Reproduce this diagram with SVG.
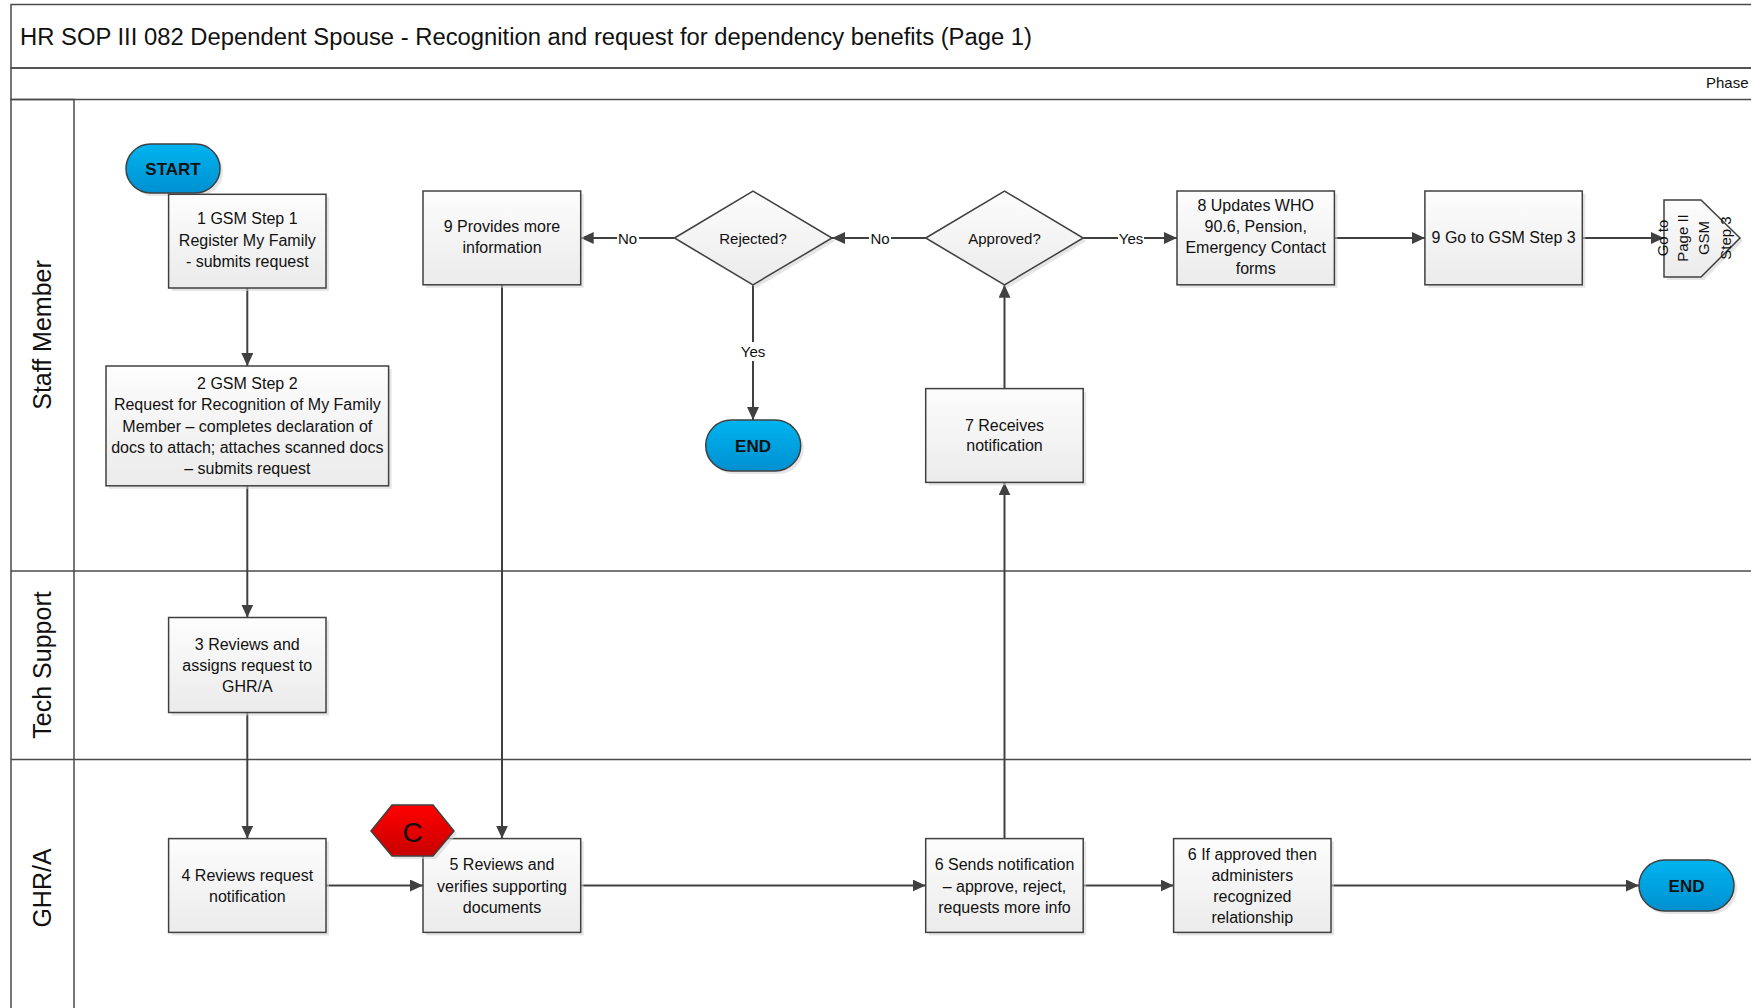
<svg xmlns="http://www.w3.org/2000/svg" width="1751" height="1008" viewBox="0 0 1751 1008">
<style>
.t{font-family:"Liberation Sans",Arial,sans-serif;font-size:16px;fill:#111;text-anchor:middle}
.lbl{font-family:"Liberation Sans",Arial,sans-serif;font-size:15px;fill:#111;text-anchor:middle;dominant-baseline:central}
.lane{font-family:"Liberation Sans",Arial,sans-serif;font-size:25px;fill:#111;text-anchor:middle;dominant-baseline:central}
.term{font-family:"Liberation Sans",Arial,sans-serif;font-size:17px;font-weight:bold;fill:#111;text-anchor:middle;dominant-baseline:central}
.box{fill:url(#gBox);stroke:#404040;stroke-width:1.5}
.blue{fill:url(#gBlue);stroke:#404040;stroke-width:1.5}
.sh{fill:#cfcfcf;opacity:0.55}
.ln{stroke:#4a4a4a;stroke-width:1.5;fill:none}
.conn{stroke:#404040;stroke-width:2;fill:none;marker-end:url(#arr)}
</style>
<defs>
<linearGradient id="gBox" x1="0" y1="0" x2="0" y2="1"><stop offset="0" stop-color="#fdfdfd"/><stop offset="1" stop-color="#ebebeb"/></linearGradient>
<linearGradient id="gBand" x1="0" y1="0" x2="0" y2="1"><stop offset="0" stop-color="#fefefe"/><stop offset="1" stop-color="#efefef"/></linearGradient>
<linearGradient id="gLane" x1="0" y1="0" x2="1" y2="0"><stop offset="0" stop-color="#fdfdfd"/><stop offset="1" stop-color="#ececec"/></linearGradient>
<linearGradient id="gBlue" x1="0" y1="0" x2="0" y2="1"><stop offset="0" stop-color="#00b4f0"/><stop offset="1" stop-color="#0090d0"/></linearGradient>
<linearGradient id="gRed" x1="0" y1="0" x2="0" y2="1"><stop offset="0" stop-color="#ff0000"/><stop offset="1" stop-color="#c80000"/></linearGradient>
<marker id="arr" markerUnits="userSpaceOnUse" markerWidth="14" markerHeight="12" refX="13" refY="6" orient="auto"><path d="M0,0 L13,6 L0,12 z" fill="#404040"/></marker>
</defs>

<g id="frame">
<rect x="11" y="4.5" width="1760" height="63.5" fill="url(#gBand)" class="ln"/>
<rect x="11" y="68" width="1760" height="31.5" fill="url(#gBand)" class="ln"/>
<rect x="11" y="99.5" width="63" height="920" fill="url(#gLane)" class="ln"/>
<line x1="11" y1="571" x2="1760" y2="571" class="ln"/>
<line x1="11" y1="759.5" x2="1760" y2="759.5" class="ln"/>
<text x="20" y="45" font-family="Liberation Sans, Arial, sans-serif" font-size="23.5" fill="#111" textLength="1012" lengthAdjust="spacingAndGlyphs">HR SOP III 082 Dependent Spouse - Recognition and request for dependency benefits (Page 1)</text>
<text x="1706" y="88" font-family="Liberation Sans, Arial, sans-serif" font-size="15" fill="#111">Phase</text>
<text class="lane" transform="translate(42,335) rotate(-90)">Staff Member</text>
<text class="lane" transform="translate(42,665) rotate(-90)">Tech Support</text>
<text class="lane" transform="translate(42,888) rotate(-90)">GHR/A</text>
</g>

<g id="connectors">
<path class="conn" d="M247.3,288 V366"/>
<path class="conn" d="M247.3,485.8 V617.5"/>
<path class="conn" d="M247.3,712.5 V838.6"/>
<path class="conn" d="M326,885.5 H423"/>
<path class="conn" d="M580.7,885.5 H925.7"/>
<path class="conn" d="M1004.5,838.6 V482.4"/>
<path class="conn" d="M1004.5,388.6 V284.8"/>
<path class="conn" d="M925.7,238 H832"/>
<path class="conn" d="M674.5,238 H580.7"/>
<path class="conn" d="M753,284.8 V420"/>
<path class="conn" d="M1083.2,238 H1177"/>
<path class="conn" d="M1334.4,238 H1424.9"/>
<path class="conn" d="M1582.3,238 H1664"/>
<path class="conn" d="M502,284.8 V838.6"/>
<path class="conn" d="M1083.2,885.5 H1173.6"/>
<path class="conn" d="M1331,885.5 H1639"/>
<rect x="617" y="229" width="22" height="18" fill="#fff"/>
<text class="lbl" x="627.6" y="238">No</text>
<rect x="869" y="229" width="22" height="18" fill="#fff"/>
<text class="lbl" x="880" y="238">No</text>
<rect x="1118" y="229" width="26" height="18" fill="#fff"/>
<text class="lbl" x="1131" y="238">Yes</text>
<rect x="739" y="342" width="28" height="19" fill="#fff"/>
<text class="lbl" x="753" y="351.7">Yes</text>
</g>

<g id="start">
<rect x="129" y="147" width="94" height="49" rx="24.5" class="sh"/>
<rect x="126" y="144" width="94" height="49" rx="24.5" class="blue"/>
<text class="term" x="173" y="169">START</text>
</g>

<g id="step1">
<rect x="171.6" y="197.3" width="157.4" height="93.7" class="sh"/>
<rect x="168.6" y="194.3" width="157.4" height="93.7" class="box"/>
<text class="t" x="247.3" y="224">1 GSM Step 1</text>
<text class="t" x="247.3" y="246">Register My Family</text>
<text class="t" x="247.3" y="267">- submits request</text>
</g>

<g id="step2">
<rect x="109" y="369" width="282.6" height="119.8" class="sh"/>
<rect x="106" y="366" width="282.6" height="119.8" class="box"/>
<text class="t" x="247.3" y="389">2 GSM Step 2</text>
<text class="t" x="247.3" y="410">Request for Recognition of My Family</text>
<text class="t" x="247.3" y="432">Member – completes declaration of</text>
<text class="t" x="247.3" y="453">docs to attach; attaches scanned docs</text>
<text class="t" x="247.3" y="474">– submits request</text>
</g>

<g id="step3">
<rect x="171.6" y="620.5" width="157.4" height="95" class="sh"/>
<rect x="168.6" y="617.5" width="157.4" height="95" class="box"/>
<text class="t" x="247.3" y="649.5">3 Reviews and</text>
<text class="t" x="247.3" y="670.5">assigns request to</text>
<text class="t" x="247.3" y="692">GHR/A</text>
</g>

<g id="step4">
<rect x="171.6" y="841.6" width="157.4" height="93.8" class="sh"/>
<rect x="168.6" y="838.6" width="157.4" height="93.8" class="box"/>
<text class="t" x="247.3" y="880.5">4 Reviews request</text>
<text class="t" x="247.3" y="901.7">notification</text>
</g>

<g id="step5">
<rect x="426" y="841.6" width="157.7" height="93.8" class="sh"/>
<rect x="423" y="838.6" width="157.7" height="93.8" class="box"/>
<text class="t" x="502" y="869.5">5 Reviews and</text>
<text class="t" x="502" y="891.5">verifies supporting</text>
<text class="t" x="502" y="913">documents</text>
</g>

<g id="control-c">
<polygon points="374,834 395,808 436,808 457,834 436,859 395,859" class="sh"/>
<polygon points="371,831 392,805 433,805 454,831 433,856 392,856" fill="url(#gRed)" stroke="#404040" stroke-width="1.5"/>
<text x="412.5" y="832" font-family="Liberation Sans, Arial, sans-serif" font-size="28" fill="#111" text-anchor="middle" dominant-baseline="central">C</text>
</g>

<g id="step9-provides">
<rect x="426" y="194" width="157.7" height="93.8" class="sh"/>
<rect x="423" y="191" width="157.7" height="93.8" class="box"/>
<text class="t" x="502" y="231.7">9 Provides more</text>
<text class="t" x="502" y="253">information</text>
</g>

<g id="rejected">
<polygon points="677.5,241 756,194 835,241 756,288" class="sh"/>
<polygon points="674.5,238 753,191 832,238 753,284.8" class="box"/>
<text class="lbl" font-size="16" x="753" y="238">Rejected?</text>
</g>

<g id="end1">
<rect x="708.7" y="423" width="95" height="51" rx="25.5" class="sh"/>
<rect x="705.7" y="420" width="95" height="51" rx="25.5" class="blue"/>
<text class="term" x="753" y="446">END</text>
</g>

<g id="approved">
<polygon points="928.7,241 1007.5,194 1086.2,241 1007.5,288" class="sh"/>
<polygon points="925.7,238 1004.5,191 1083.2,238 1004.5,284.8" class="box"/>
<text class="lbl" font-size="16" x="1004.5" y="238">Approved?</text>
</g>

<g id="step7">
<rect x="928.7" y="391.6" width="157.5" height="93.8" class="sh"/>
<rect x="925.7" y="388.6" width="157.5" height="93.8" class="box"/>
<text class="t" x="1004.5" y="430.5">7 Receives</text>
<text class="t" x="1004.5" y="450.5">notification</text>
</g>

<g id="step6-sends">
<rect x="928.7" y="841.6" width="157.5" height="93.8" class="sh"/>
<rect x="925.7" y="838.6" width="157.5" height="93.8" class="box"/>
<text class="t" x="1004.5" y="869.5">6 Sends notification</text>
<text class="t" x="1004.5" y="891.5">– approve, reject,</text>
<text class="t" x="1004.5" y="913">requests more info</text>
</g>

<g id="step8">
<rect x="1180" y="194" width="157.4" height="93.8" class="sh"/>
<rect x="1177" y="191" width="157.4" height="93.8" class="box"/>
<text class="t" x="1255.7" y="210.5">8 Updates WHO</text>
<text class="t" x="1255.7" y="232">90.6, Pension,</text>
<text class="t" x="1255.7" y="253">Emergency Contact</text>
<text class="t" x="1255.7" y="274">forms</text>
</g>

<g id="step9-go">
<rect x="1427.9" y="194" width="157.4" height="93.8" class="sh"/>
<rect x="1424.9" y="191" width="157.4" height="93.8" class="box"/>
<text class="t" x="1503.6" y="243">9 Go to GSM Step 3</text>
</g>

<g id="offpage">
<polygon points="1667,203 1704,203 1743,241 1704,280 1667,280" class="sh"/>
<polygon points="1664,200 1701,200 1740,238 1701,277 1664,277" class="box"/>
<text class="lbl" font-size="14" transform="translate(1662,238) rotate(-90)">Go to</text>
<text class="lbl" font-size="14" transform="translate(1682,238) rotate(-90)">Page II</text>
<text class="lbl" font-size="14" transform="translate(1703,238) rotate(-90)">GSM</text>
<text class="lbl" font-size="14" transform="translate(1725,238) rotate(-90)">Step 3</text>
</g>

<g id="step6-if">
<rect x="1176.6" y="841.6" width="157.4" height="93.8" class="sh"/>
<rect x="1173.6" y="838.6" width="157.4" height="93.8" class="box"/>
<text class="t" x="1252.3" y="859.5">6 If approved then</text>
<text class="t" x="1252.3" y="880.5">administers</text>
<text class="t" x="1252.3" y="901.7">recognized</text>
<text class="t" x="1252.3" y="923">relationship</text>
</g>

<g id="end2">
<rect x="1642" y="863" width="95" height="51" rx="25.5" class="sh"/>
<rect x="1639" y="860" width="95" height="51" rx="25.5" class="blue"/>
<text class="term" x="1686.5" y="886">END</text>
</g>
</svg>
